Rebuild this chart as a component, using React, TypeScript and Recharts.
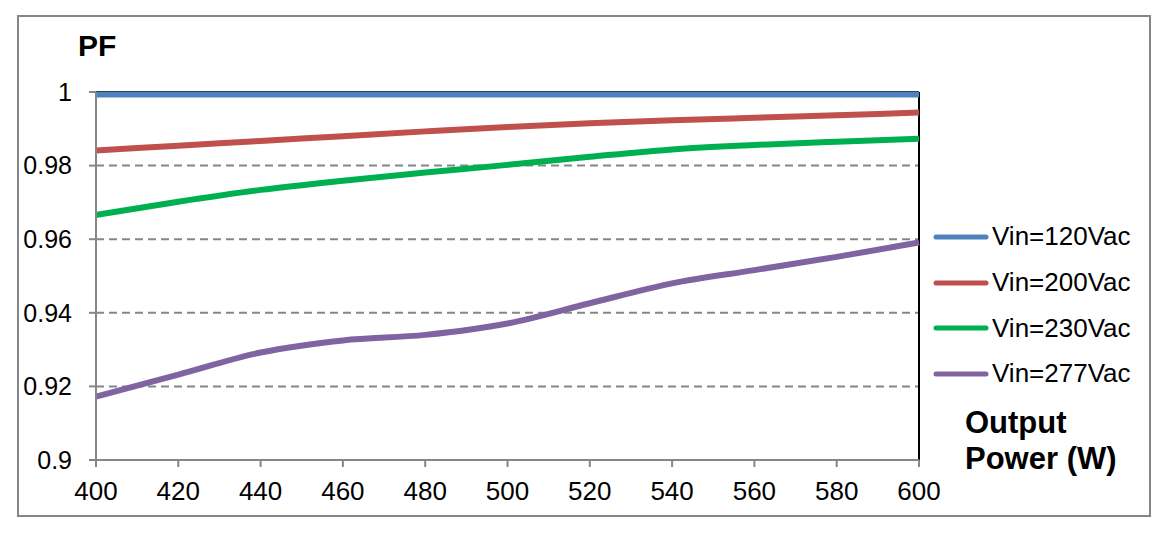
import { LineChart, Line, XAxis, YAxis, CartesianGrid, ReferenceLine, Legend } from 'recharts';

const power = [400, 420, 440, 460, 480, 500, 520, 540, 560, 580, 600];
const pf120 = [0.9993, 0.9993, 0.9993, 0.9993, 0.9993, 0.9993, 0.9993, 0.9993, 0.9993, 0.9993, 0.9993];
const pf200 = [0.9841, 0.9854, 0.9867, 0.988, 0.9893, 0.9905, 0.9915, 0.9923, 0.993, 0.9937, 0.9944];
const pf230 = [0.9666, 0.9702, 0.9734, 0.9759, 0.9781, 0.9802, 0.9824, 0.9844, 0.9856, 0.9865, 0.9873];
const pf277 = [0.9172, 0.9232, 0.9292, 0.9325, 0.934, 0.9371, 0.9426, 0.948, 0.9516, 0.9552, 0.9591];

const xTicks = [400, 420, 440, 460, 480, 500, 520, 540, 560, 580, 600];
const yTicks = [0.9, 0.92, 0.94, 0.96, 0.98, 1];

const series = [
  { key: 'v120', name: 'Vin=120Vac', color: '#4f81bd', values: pf120 },
  { key: 'v200', name: 'Vin=200Vac', color: '#c0504d', values: pf200 },
  { key: 'v230', name: 'Vin=230Vac', color: '#00b050', values: pf230 },
  { key: 'v277', name: 'Vin=277Vac', color: '#8064a2', values: pf277 },
];

const data = power.map((p, i) => {
  const row: Record<string, number> = { power: p };
  series.forEach((s) => {
    row[s.key] = s.values[i];
  });
  return row;
});

const font = '"Liberation Sans", Arial, sans-serif';
const gray = '#868686';

function LegendBox(props: any) {
  const items = props.payload || [];
  return (
    <div style={{ fontFamily: font, fontSize: 26, color: '#000' }}>
      {items.map((item: any) => (
        <div key={item.value} style={{ display: 'flex', alignItems: 'center', height: 45.7 }}>
          <svg width={60} height={10} style={{ display: 'block' }}>
            <line x1={5} y1={5} x2={55} y2={5} stroke={item.color} strokeWidth={5} strokeLinecap="round" />
          </svg>
          <span style={{ marginLeft: 1 }}>{item.value}</span>
        </div>
      ))}
    </div>
  );
}

export default function App() {
  return (
    <div style={{ position: 'absolute', left: 0, top: 0, width: 1170, height: 533, background: '#fff' }}>
      <div
        style={{
          position: 'absolute',
          left: 17,
          top: 15,
          width: 1130,
          height: 498,
          border: `2px solid ${gray}`,
        }}
      />
      {/* legend reserves 230px on the right, so margin.right is what's left */}
      <LineChart
        width={1170}
        height={533}
        data={data}
        margin={{ top: 92, right: 21, bottom: 43, left: 0 }}
        style={{ position: 'absolute', left: 0, top: 0, fontFamily: font }}
      >
        <CartesianGrid vertical={false} stroke={gray} strokeWidth={2} strokeDasharray="8 5" />
        <XAxis
          dataKey="power"
          type="number"
          domain={[400, 600]}
          ticks={xTicks}
          interval={0}
          height={30}
          tickSize={7}
          tickMargin={15}
          stroke={gray}
          strokeWidth={2}
          tick={{ fill: '#000', fontSize: 26 }}
        />
        <YAxis
          type="number"
          domain={[0.9, 1]}
          ticks={yTicks}
          interval={0}
          width={96}
          tickSize={7}
          tickMargin={17}
          stroke={gray}
          strokeWidth={2}
          tick={{ fill: '#000', fontSize: 25 }}
        />
        <ReferenceLine y={1} stroke="#000" strokeWidth={2} />
        <ReferenceLine x={600} stroke="#000" strokeWidth={2} />
        {series.map((s) => (
          <Line
            key={s.key}
            type="monotone"
            dataKey={s.key}
            name={s.name}
            stroke={s.color}
            strokeWidth={6}
            dot={false}
            isAnimationActive={false}
          />
        ))}
        <Legend
          layout="vertical"
          align="right"
          verticalAlign="top"
          content={<LegendBox />}
          wrapperStyle={{ position: 'absolute', left: 931, top: 214, width: 230 }}
        />
      </LineChart>
      <div style={{ position: 'absolute', left: 78, top: 29, fontFamily: font, fontWeight: 'bold', fontSize: 30 }}>PF</div>
      <div
        style={{
          position: 'absolute',
          left: 965,
          top: 405,
          fontFamily: font,
          fontWeight: 'bold',
          fontSize: 31,
          lineHeight: '36px',
        }}
      >
        Output
        <br />
        Power (W)
      </div>
    </div>
  );
}
